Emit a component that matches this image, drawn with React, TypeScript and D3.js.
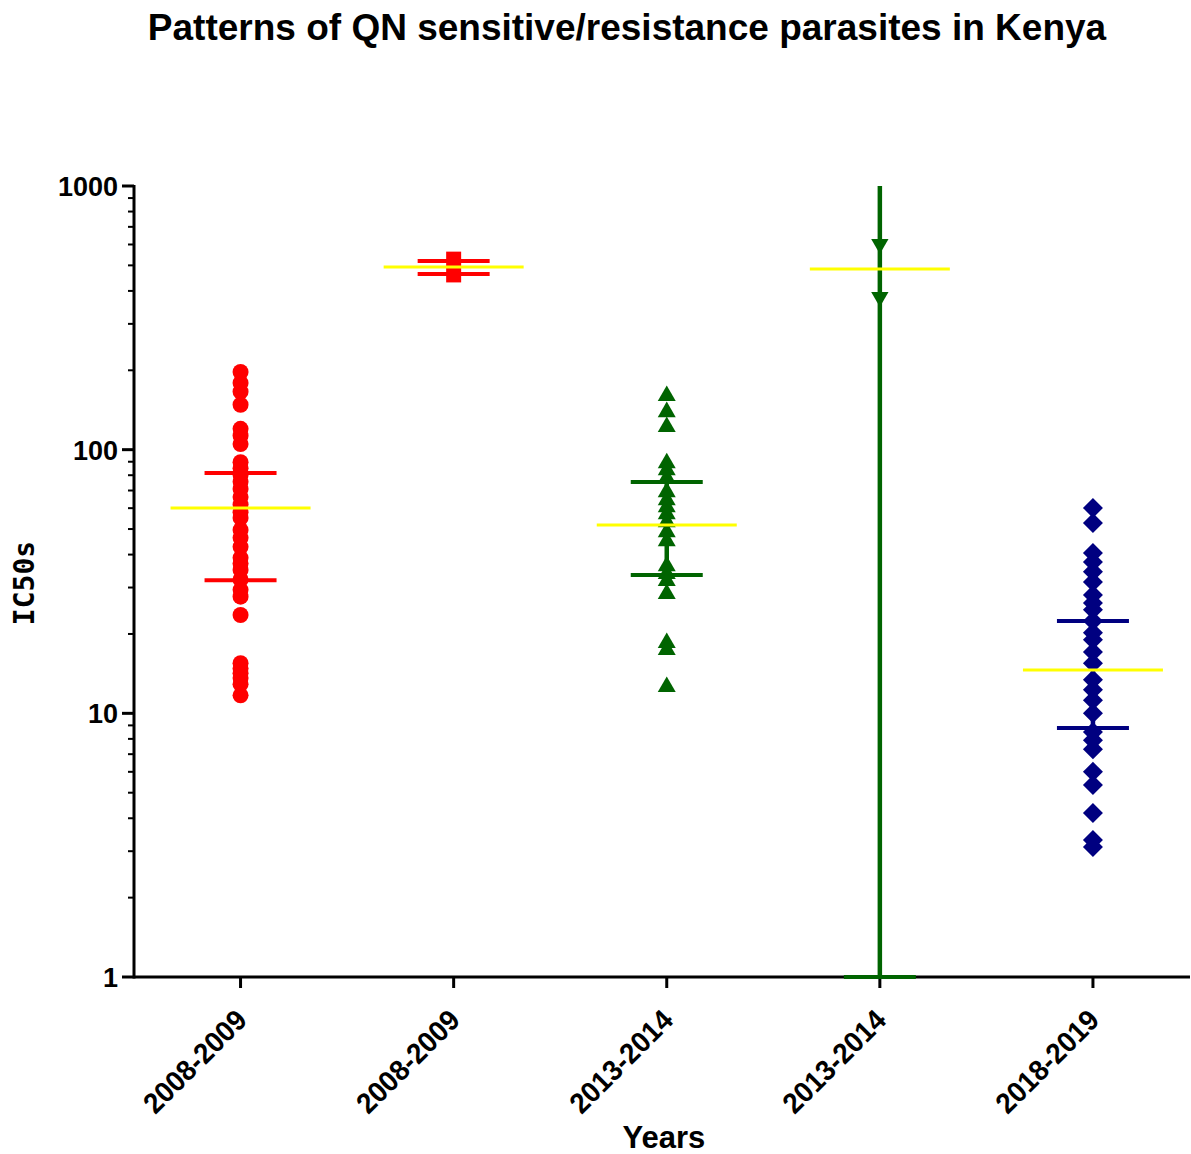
import React from "react";
import * as d3 from "d3";

// group labels (two groups share each period label)
const categories = ["2008-2009", "2008-2009", "2013-2014", "2013-2014", "2018-2019"];

// IC50 values
const sens2008 = [197, 179, 166, 148, 120, 113, 105, 89.6, 85.0, 80.2, 75.5, 71.0, 66.1, 61.9, 57.9, 55.1,
  49.6, 46.3, 42.8, 38.9, 37.0, 35.0, 32.2, 29.4, 27.7, 23.6, 15.5, 14.8, 14.2, 13.6, 12.9, 11.7];
const resist2008 = [528, 460];
const sens2013 = [160, 139, 122, 89, 83.7, 78, 69.1, 64.4, 60.6, 57.0, 53.2, 48.7, 45.0, 36.2, 33.8,
  31.8, 28.4, 18.5, 17.4, 12.6];
const resist2013 = [603, 379];
const all2018 = [60.1, 52.7, 40.6, 37.5, 34.4, 31.5, 28.1, 26.2, 24.7, 22.4, 20.2, 19.0, 17.1, 15.5,
  13.4, 12.3, 11.2, 10.0, 8.5, 7.9, 7.3, 6.0, 5.35, 4.19, 3.31, 3.11];

const groupValues = [sens2008, resist2008, sens2013, resist2013, all2018];
const means = [60.1, 493, 51.8, 484, 14.6];
const barHigh = [81.5, 519, 75.4, 1914, 22.4];
const barLow = [32.0, 464, 33.5, 1, 8.8];

const colors = ["#ff0000", "#ff0000", "#006400", "#006400", "#000080"];
const yTicks = [1, 10, 100, 1000];

const W = 1191, H = 1154;
const left = 134, top = 186, bottom = 977;

export default function App() {
  const y = d3.scaleLog().domain([1, 1000]).range([bottom, top]).clamp(true);
  const ids = categories.map((_, i) => String(i));
  const x = d3.scalePoint().domain(ids).range([left, 1199.5]).padding(0.5);

  const minor: number[] = [];
  [1, 10, 100].forEach(d => d3.range(2, 10).forEach(k => minor.push(d * k)));

  const sym = (i: number) => {
    if (i === 0) return { d: d3.symbol().type(d3.symbolCircle).size(Math.PI * 64)(), rot: 0 };
    if (i === 1) return { d: d3.symbol().type(d3.symbolSquare).size(225)(), rot: 0 };
    if (i === 2) return { d: d3.symbol().type(d3.symbolTriangle).size(140)(), rot: 0 };
    if (i === 3) return { d: d3.symbol().type(d3.symbolTriangle).size(130)(), rot: 180 };
    return { d: d3.symbol().type(d3.symbolSquare).size(200)(), rot: 45 };
  };

  const inDomain = (v: number) => v >= 1 && v <= 1000;

  return (
    <svg width={W} height={H} style={{ position: "absolute", left: 0, top: 0, background: "#fff" }}
      fontFamily="'Liberation Sans', Arial, sans-serif">
      <text x={627} y={40} textAnchor="middle" fontSize={37} fontWeight="bold">
        Patterns of QN sensitive/resistance parasites in Kenya
      </text>

      {/* y axis */}
      <line x1={left} x2={left} y1={top - 1} y2={bottom + 1.5} stroke="#000" strokeWidth={3} />
      {minor.map(v => (
        <line key={"m" + v} x1={left - 6} x2={left} y1={y(v)} y2={y(v)} stroke="#000" strokeWidth={2} />
      ))}
      {yTicks.map(v => (
        <g key={"t" + v}>
          <line x1={left - 12} x2={left} y1={y(v)} y2={y(v)} stroke="#000" strokeWidth={3} />
          <text x={118} y={y(v) + 10} textAnchor="end" fontSize={27} fontWeight="bold">{v}</text>
        </g>
      ))}
      <text transform={`translate(34,583) rotate(-90)`} textAnchor="middle" fontSize={28}
        fontWeight="bold" fontFamily="'DejaVu Sans Mono', monospace">IC50s</text>

      {/* x axis */}
      <line x1={left} x2={1190} y1={bottom} y2={bottom} stroke="#000" strokeWidth={3} />
      {ids.map((id, i) => (
        <g key={"x" + id}>
          <line x1={x(id)} x2={x(id)} y1={bottom} y2={bottom + 11} stroke="#000" strokeWidth={3} />
          <text transform={`translate(${(x(id) as number) + 8},1022) rotate(-45)`} textAnchor="end"
            fontSize={29} fontWeight="bold" textLength={132} lengthAdjust="spacingAndGlyphs">
            {categories[i]}
          </text>
        </g>
      ))}
      <text x={664} y={1148} textAnchor="middle" fontSize={31} fontWeight="bold">Years</text>

      {/* error bars and points */}
      {ids.map((id, i) => {
        const cx = x(id) as number;
        const s = sym(i);
        return (
          <g key={"g" + id} fill={colors[i]} stroke="none">
            <line x1={cx} x2={cx} y1={y(barLow[i])} y2={y(barHigh[i])} stroke={colors[i]} strokeWidth={4.5} />
            {[barLow[i], barHigh[i]].filter(inDomain).map((v, k) => (
              <line key={k} x1={cx - 36} x2={cx + 36} y1={y(v)} y2={y(v)} stroke={colors[i]} strokeWidth={4} />
            ))}
            {groupValues[i].map((v, k) => (
              <path key={k} d={s.d as string} transform={`translate(${cx},${y(v)}) rotate(${s.rot})`} />
            ))}
          </g>
        );
      })}

      {/* means */}
      {ids.map((id, i) => {
        const cx = x(id) as number;
        return (
          <line key={"mean" + id} x1={cx - 70} x2={cx + 70} y1={y(means[i])} y2={y(means[i])}
            stroke="#ffff00" strokeWidth={3} />
        );
      })}
    </svg>
  );
}
